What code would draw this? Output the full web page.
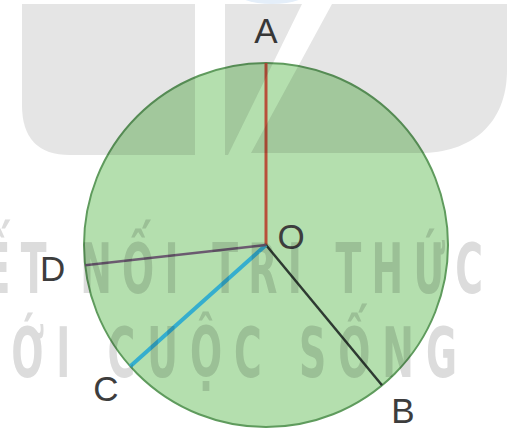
<!DOCTYPE html>
<html>
<head>
<meta charset="utf-8">
<script src="https://cdn.jsdelivr.net/npm/d3@7"></script>
<style>
  body { margin: 0; background: #fff; }
  svg { display: block; }
</style>
</head>
<body>
<div id="chart"></div>
<script>
const width = 507
const height = 431

// radii of the circle, bearing in degrees clockwise from the top
const points = ['A', 'B', 'C', 'D']
const bearings = [0, 140.4, 228.2, 263.6]
const lineColors = ['#b8503a', '#2e3b32', '#35aece', '#6b5a70']
const lineWidths = [3, 2.5, 4, 2.5]

const watermarkLines = ['KẾT NỐI TRI THỨC', 'VỚI CUỘC SỐNG']

const center = { x: 266, y: 245 }
const radius = 182

const svg = d3
  .select('#chart')
  .append('svg')
  .attr('width', width)
  .attr('height', height)

const angleScale = d3
  .scaleLinear()
  .domain([0, 360])
  .range([0, 2 * Math.PI])

const radiusScale = d3
  .scaleLinear()
  .domain([0, 1])
  .range([0, radius])

const g = svg
  .append('g')
  .attr('transform', `translate(${center.x},${center.y})`)

// the disc
g.append('circle')
  .attr('r', radiusScale(1))
  .attr('fill', '#b4dfae')
  .attr('stroke', '#5f9b5d')
  .attr('stroke-width', 2)

// watermark logo, blended on top
const wm = svg.append('g').style('mix-blend-mode', 'multiply')

wm.append('path')
  .attr('d', 'M22,4 H195 V155 H70 Q22,155 22,105 Z')
  .attr('fill', '#e5e5e5')

wm.append('path')
  .attr('d', 'M225,4 H302 L228,155 H225 Z')
  .attr('fill', '#e5e5e5')

wm.append('path')
  .attr('d', 'M332,4 H507 V70 C507,125 470,153 420,153 H251 Z')
  .attr('fill', '#e5e5e5')

wm.append('ellipse')
  .attr('cx', 272)
  .attr('cy', -10)
  .attr('rx', 38)
  .attr('ry', 14)
  .attr('fill', '#e4eef9')

// narrow letters, wide spacing: squeeze glyphs, stretch the gaps
const squeeze = 0.6
const wmText = [
  { x: -55, y: 293, len: 538 },
  { x: -30, y: 377, len: 487 }
]

wm.selectAll('text.wm')
  .data(watermarkLines)
  .enter()
  .append('text')
  .attr('class', 'wm')
  .attr('transform', (d, i) => `translate(${wmText[i].x},${wmText[i].y}) scale(${squeeze},1)`)
  .attr('textLength', (d, i) => wmText[i].len / squeeze)
  .attr('lengthAdjust', 'spacing')
  .attr('font-family', 'DejaVu Sans Condensed, DejaVu Sans')
  .attr('font-weight', 'bold')
  .attr('font-size', 70)
  .attr('fill', '#dcdcdc')
  .text(d => d)

// radii
g.selectAll('line.radius')
  .data(points)
  .enter()
  .append('line')
  .attr('class', 'radius')
  .attr('x1', 0)
  .attr('y1', 0)
  .attr('x2', (d, i) => d3.pointRadial(angleScale(bearings[i]), radiusScale(1))[0])
  .attr('y2', (d, i) => d3.pointRadial(angleScale(bearings[i]), radiusScale(1))[1])
  .attr('stroke', (d, i) => lineColors[i])
  .attr('stroke-width', (d, i) => lineWidths[i])
  .attr('stroke-linecap', 'butt')

// point labels
g.selectAll('text.label')
  .data(points)
  .enter()
  .append('text')
  .attr('class', 'label')
  .attr('x', (d, i) => d3.pointRadial(angleScale(bearings[i]), radiusScale(1.18))[0])
  .attr('y', (d, i) => d3.pointRadial(angleScale(bearings[i]), radiusScale(1.18))[1])
  .attr('text-anchor', 'middle')
  .attr('dominant-baseline', 'central')
  .attr('font-family', 'Liberation Sans, Arial, sans-serif')
  .attr('font-size', 35)
  .attr('fill', '#3d3d3d')
  .text(d => d)

g.append('text')
  .attr('x', 25)
  .attr('y', -9)
  .attr('text-anchor', 'middle')
  .attr('dominant-baseline', 'central')
  .attr('font-family', 'Liberation Sans, Arial, sans-serif')
  .attr('font-size', 35)
  .attr('fill', '#3d3d3d')
  .text('O')
</script>
</body>
</html>
